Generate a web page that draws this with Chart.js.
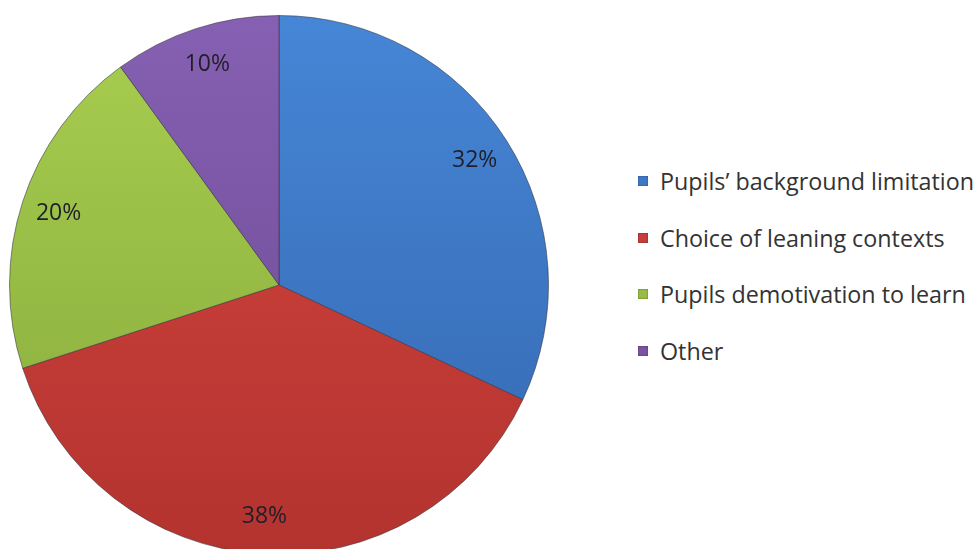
<!DOCTYPE html>
<html>
<head>
<meta charset="utf-8">
<script src="https://cdn.jsdelivr.net/npm/chart.js@4.4.1/dist/chart.umd.min.js"></script>
<style>
  html, body { margin: 0; padding: 0; background: #fff; overflow: hidden; }
  #wrap { position: relative; width: 979px; height: 549px; }
  #pieBox { position: absolute; left: 0; top: 0; width: 560px; height: 556px; }
  #legend { position: absolute; left: 638px; top: 165px; font-family: "Open Sans", sans-serif; font-size: 23.3px; color: #333; }
  #legend .item { display: flex; align-items: center; height: 32px; margin-bottom: 24.7px; white-space: nowrap; }
  #legend .box { width: 10px; height: 10px; margin-right: 12px; box-shadow: inset 0 0 2px rgba(0,0,0,0.45); }
</style>
</head>
<body>
<div id="wrap">
  <div id="pieBox"><canvas id="pie"></canvas></div>
  <div id="legend"></div>
</div>
<script>
/* ── Data ─────────────────────────────────────────────── */
const categories = [
  'Pupils’ background limitation',
  'Choice of leaning contexts',
  'Pupils demotivation to learn',
  'Other',
];
const shares = [32, 38, 20, 10];

// light (top) / dark (bottom) tone per slice
const topColors    = ['#4686d6', '#d6463f', '#a8ce50', '#8660b2'];
const bottomColors = ['#3467b0', '#b3332f', '#86a93a', '#6a4893'];
const swatchColors = ['#3f79c6', '#c83e3a', '#98bd46', '#7a54a3'];

/* ── Helpers ──────────────────────────────────────────── */
function sliceFill(ctx) {
  const area = ctx.chart.chartArea;
  if (!area) return topColors[ctx.dataIndex];
  const g = ctx.chart.ctx.createLinearGradient(0, area.top, 0, area.bottom);
  g.addColorStop(0, topColors[ctx.dataIndex]);
  g.addColorStop(1, bottomColors[ctx.dataIndex]);
  return g;
}

// percentage text inside each slice
const sliceLabels = {
  id: 'slice-labels',
  afterDatasetsDraw(chart) {
    const { ctx } = chart;
    const meta = chart.getDatasetMeta(0);
    ctx.save();
    ctx.font = '23px "Open Sans", sans-serif';
    ctx.fillStyle = '#1f1f2a';
    ctx.textAlign = 'center';
    ctx.textBaseline = 'middle';
    meta.data.forEach((arc, i) => {
      const { x, y, startAngle, endAngle, outerRadius } =
        arc.getProps(['x', 'y', 'startAngle', 'endAngle', 'outerRadius'], true);
      const mid = (startAngle + endAngle) / 2;
      const r = outerRadius * 0.86;
      ctx.fillText(shares[i] + '%', x + Math.cos(mid) * r, y + Math.sin(mid) * r);
    });
    ctx.restore();
  },
};

/* ── Chart ────────────────────────────────────────────── */
new Chart(document.getElementById('pie'), {
  type: 'pie',
  data: {
    labels: categories,
    datasets: [{
      data: shares,
      backgroundColor: sliceFill,
      borderColor: 'rgba(50,50,60,0.55)',
      borderWidth: 1,
    }],
  },
  options: {
    responsive: true,
    maintainAspectRatio: false,
    animation: false,
    layout: { padding: { top: 15, bottom: 1, left: 9, right: 11 } },
    plugins: {
      legend: { display: false },
      tooltip: { enabled: false },
    },
  },
  plugins: [sliceLabels],
});

/* ── Legend ───────────────────────────────────────────── */
const legend = document.getElementById('legend');
categories.forEach((name, i) => {
  const item = document.createElement('div');
  item.className = 'item';
  const box = document.createElement('span');
  box.className = 'box';
  box.style.background = swatchColors[i];
  const txt = document.createElement('span');
  txt.textContent = name;
  item.appendChild(box);
  item.appendChild(txt);
  legend.appendChild(item);
});
</script>
</body>
</html>
